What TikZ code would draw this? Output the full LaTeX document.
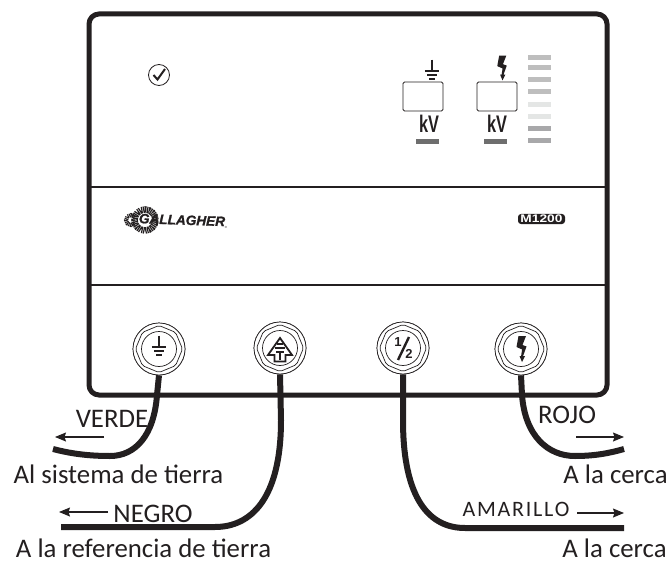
\documentclass[tikz,border=0pt]{standalone}
\usepackage{fontspec}
\setmainfont{Carlito}
\newfontfamily\logofont[BoldItalicFeatures={FakeBold=1.2}]{Liberation Sans}
\newfontfamily\modelfont[FakeStretch=1.25]{Liberation Sans}
\newfontfamily\panelfont[FakeStretch=0.68]{Liberation Sans}
\newfontfamily\spacedfont[LetterSpace=8]{Carlito}
\usetikzlibrary{arrows.meta,calc,shapes.geometric}
\definecolor{ink}{RGB}{35,31,32}
\definecolor{bargray}{RGB}{190,190,190}
\definecolor{barlight}{RGB}{228,230,229}
\definecolor{bardark}{RGB}{168,168,170}
\definecolor{barmark}{RGB}{110,110,110}
\newcommand{\earthmark}[3]{%
  \begin{scope}[shift={(#1,#2)},scale=#3]
    \draw[ink,line width=1.5pt] (0,-12) -- (0,0);
    \draw[ink,line width=2pt] (-7.5,0) -- (7.5,0);
    \draw[ink,line width=2pt] (-5,4) -- (5,4);
    \draw[ink,line width=2pt] (-3,8) -- (3,8);
  \end{scope}}
\newcommand{\boltmark}[3]{%
  \fill[ink,shift={(#1,#2)},scale=#3] (-3,-13) -- (4.5,-13) -- (1,-4) -- (5,-2.5) -- (1.6,7)
    -- (3.5,7) -- (0.5,13) -- (-2,7) -- (-0.4,7) -- (0.6,0.5) -- (-5,-2) -- cycle;}
\tikzset{
  wire/.style={ink, line width=6pt},
  flow/.style={-{Stealth[length=11pt,width=9pt,inset=1.5pt]}, ink, line width=1.1pt},
  lab/.style={font=\fontsize{26.8}{30}\selectfont, text=ink, inner sep=0pt, anchor=base},
  terminal/.style={circle, draw=ink, line width=0.7pt, minimum size=52pt, inner sep=0pt, fill=white},
  nut/.style={regular polygon, regular polygon sides=8, draw=ink, line width=0.7pt, minimum size=47pt, inner sep=0pt, rotate=22.5, rounded corners=2pt},
  capring/.style={circle, draw=ink, line width=0.7pt, minimum size=35pt, inner sep=0pt},
  readout/.style={draw=ink, line width=0.9pt, rounded corners=1.5pt, minimum width=40pt, minimum height=29pt, inner sep=0pt},
  unit/.style={font=\panelfont\bfseries\fontsize{24}{25}\selectfont, text=ink, inner sep=0pt, anchor=base},
}
\begin{document}
\begin{tikzpicture}[x=1pt,y=-1pt]
  \useasboundingbox (0,0) rectangle (669,564);
  % wires first, the panel sits on top of their upper ends
  \node[terminal] (tearth) at (159,349) {};
  \node[terminal] (tref) at (280,348) {};
  \node[terminal] (thalf) at (403,348) {};
  \node[terminal] (tbolt) at (521,349) {};
  \coordinate (endverde) at (53,449);
  \coordinate (endnegro) at (61,527);
  \coordinate (endamarillo) at (624,528);
  \coordinate (endrojo) at (624,449);
  \draw[wire] (tearth.south) -- (157,395) .. controls (154,436) and (135,456) .. (110,456)
    .. controls (90,456) and (72,454) .. (endverde);
  \draw[wire] (tref.south) -- (281,420) .. controls (281,500) and (250,527) .. (215,527) -- (endnegro);
  \draw[wire] (thalf.south) -- (403,420) .. controls (403,500) and (430,528) .. (465,528) -- (endamarillo);
  \draw[wire] (tbolt.south) -- (522,395) .. controls (525,436) and (548,456) .. (575,456)
    .. controls (595,456) and (610,453) .. (endrojo);
  % case
  \draw[ink,line width=5pt,rounded corners=10pt] (89,14) rectangle (607,395);
  \draw[ink,line width=2pt] (89,187) -- (607,187);
  \draw[ink,line width=2pt] (89,285) -- (607,285);
  % terminals
  \foreach \t in {tearth,tref,thalf,tbolt}{
    \node[terminal] at (\t) {};
    \node[nut] at (\t) {};
    \node[capring] at (\t) {};
  }
  \earthmark{159}{347}{0.95}
  \draw[ink,line width=1.8pt,line join=miter,fill=white] (280,338) -- (292,355) -- (285.5,355) -- (285.5,361.5)
    -- (274.5,361.5) -- (274.5,355) -- (268,355) -- cycle;
  \draw[ink,line width=1.1pt] (277,344) -- (283,344) (275,348) -- (285,348) (276,352) -- (284,352) (280,352) -- (280,360);
  \node[font=\logofont\bfseries\fontsize{13}{13}\selectfont, text=ink, inner sep=0pt] (halfone) at (398,342) {1};
  \node[font=\logofont\bfseries\fontsize{13}{13}\selectfont, text=ink, inner sep=0pt] (halftwo) at (409,354) {2};
  \draw[ink,line width=2.4pt] (409,337) -- (398,360);
  \boltmark{521.5}{349}{1}
  % status tick
  \node[circle, draw=ink, line width=0.8pt, minimum size=21pt, inner sep=0pt] (tick) at (159,75) {};
  \draw[ink,line width=2pt] (153.5,75) -- (157.5,79.5) -- (165,69);
  % readouts
  \earthmark{432}{71}{0.95}
  \boltmark{502}{68}{0.95}
  \node[readout] (rearth) at (423,96.5) {};
  \node[readout] (rbolt) at (497,96.5) {};
  \node[unit] (kvearth) at (429,132.5) {kV};
  \node[unit] (kvbolt) at (497,132.5) {kV};
  \fill[barmark] (416,139) rectangle (439,144);
  \fill[barmark] (484,139) rectangle (507,144);
  \foreach \y/\c in {58/bargray,68/bargray,80/bargray,92/bargray,105/barlight,117/barlight,129/bardark,141/bardark}
    \fill[\c] (528,\y-2.5) rectangle (551,\y+2.5);
  % logo
  \draw[ink,line width=4pt,dash pattern=on 1pt off 0.7pt] (131,220) circle (5pt);
  \draw[ink,line width=6.5pt,dash pattern=on 1.2pt off 0.7pt,fill=white] (145,220) circle (10.5pt);
  \node[font=\logofont\bfseries\itshape\fontsize{13.6}{15}\selectfont, text=ink, inner sep=0pt, rotate=-2] (logo) at (182,220) {GALLAGHER};
  \node[font=\logofont\fontsize{3}{3}\selectfont, text=ink, inner sep=0pt] (logoreg) at (226,227) {®};
  % model
  \node[fill=ink, text=white, rounded corners=3pt, minimum width=47pt, minimum height=10pt, inner sep=0pt,
    font=\modelfont\bfseries\fontsize{11}{11}\selectfont] (model) at (541.5,219) {M1200};
  % labels
  \node[lab] (verde) at (112,427) {VERDE};
  \node[lab] (negro) at (153,522) {NEGRO};
  \node[lab] (rojo) at (567,423) {ROJO};
  \node[lab,font=\spacedfont\fontsize{22}{24}\selectfont] (amarillo) at (516,516) {AMARILLO};
  \node[lab] (tierra) at (118.5,483) {Al sistema de tierra};
  \node[lab] (referencia) at (143.5,557) {A la referencia de tierra};
  \node[lab] (cerca) at (615.5,483) {A la cerca};
  \node[lab] (cercados) at (614.5,557) {A la cerca};
  % flow arrows
  \coordinate (verdea) at (104,437);
  \coordinate (verdeb) at (55,437);
  \coordinate (negroa) at (108,512);
  \coordinate (negrob) at (59,512);
  \coordinate (rojoa) at (576,437);
  \coordinate (rojob) at (624,437);
  \coordinate (amarilloa) at (577,513);
  \coordinate (amarillob) at (624,513);
  \draw[flow] (verdea) -- (verdeb);
  \draw[flow] (negroa) -- (negrob);
  \draw[flow] (rojoa) -- (rojob);
  \draw[flow] (amarilloa) -- (amarillob);
\end{tikzpicture}
\end{document}
